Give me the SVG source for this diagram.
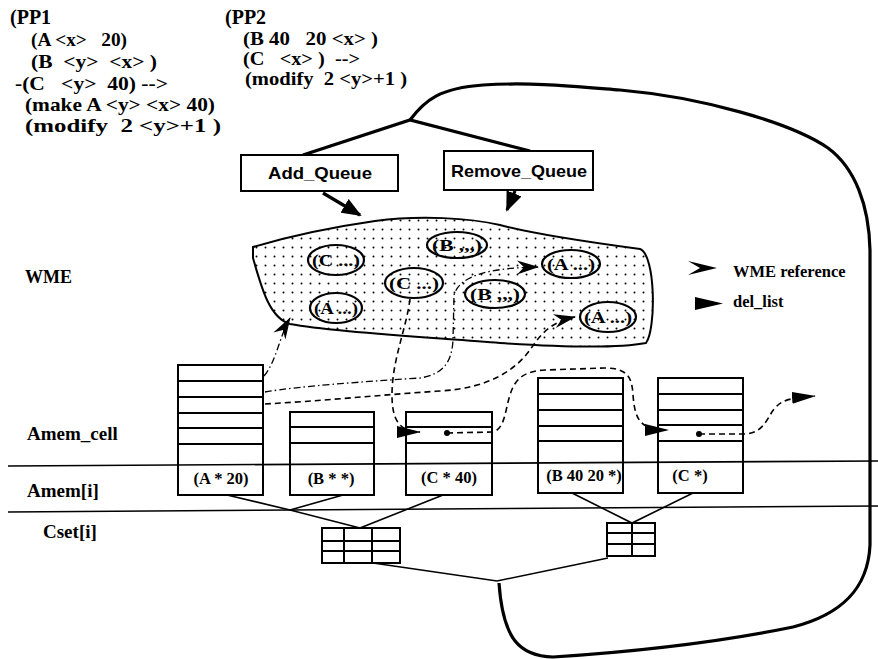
<svg xmlns="http://www.w3.org/2000/svg" width="878" height="659" viewBox="0 0 878 659">
<style>
.t{font-family:"Liberation Serif","Times New Roman",serif;font-weight:bold;fill:#000;white-space:pre}
.s{font-family:"Liberation Sans",Arial,sans-serif;font-weight:bold;fill:#000}
.thin{fill:none;stroke:#000;stroke-width:1.6}
.box{fill:#fff;stroke:#000;stroke-width:2}
.cell{fill:none;stroke:#000;stroke-width:2}
.thick{fill:none;stroke:#000;stroke-width:3.2}
.ell{fill:none;stroke:#000;stroke-width:2.2}
.dash{fill:none;stroke:#000;stroke-width:1.6;stroke-dasharray:6 4}
.dd{fill:none;stroke:#000;stroke-width:1.3;stroke-dasharray:7 3 1.5 3}
.el{font-size:17px}
</style>
<defs>
<pattern id="dots" width="9" height="9" patternUnits="userSpaceOnUse">
<circle cx="4.5" cy="4.5" r="1" fill="#000"/>
</pattern>
<marker id="wref" markerUnits="userSpaceOnUse" markerWidth="22" markerHeight="14" refX="21" refY="7" orient="auto">
<path d="M0,0 L22,7 L0,14 L7,7 Z" fill="#000"/>
</marker>
<marker id="dl" markerUnits="userSpaceOnUse" markerWidth="24" markerHeight="12" refX="23" refY="6" orient="auto">
<path d="M0,0 L24,6 L0,12 Z" fill="#000"/>
</marker>
<marker id="big" markerUnits="userSpaceOnUse" markerWidth="20" markerHeight="16" refX="18" refY="8" orient="auto">
<path d="M0,0 L20,8 L0,16 Z" fill="#000"/>
</marker>
</defs>

<g id="pp1">
<text class="t" x="10" y="24" font-size="20">(PP1</text>
<text class="t" x="31" y="46" font-size="19" textLength="96" lengthAdjust="spacingAndGlyphs">(A &lt;x&gt;   20)</text>
<text class="t" x="31" y="68" font-size="19" textLength="126" lengthAdjust="spacingAndGlyphs">(B  &lt;y&gt;  &lt;x&gt; )</text>
<text class="t" x="15" y="90" font-size="19" textLength="153" lengthAdjust="spacingAndGlyphs">-(C   &lt;y&gt;  40) --&gt;</text>
<text class="t" x="25" y="111" font-size="19" textLength="190" lengthAdjust="spacingAndGlyphs">(make A &lt;y&gt; &lt;x&gt; 40)</text>
<text class="t" x="25" y="132" font-size="19" textLength="196" lengthAdjust="spacingAndGlyphs">(modify  2 &lt;y&gt;+1 )</text>
</g>

<g id="pp2">
<text class="t" x="225" y="24" font-size="20">(PP2</text>
<text class="t" x="243" y="45" font-size="19" textLength="135" lengthAdjust="spacingAndGlyphs">(B 40   20 &lt;x&gt; )</text>
<text class="t" x="243" y="65" font-size="19" textLength="117" lengthAdjust="spacingAndGlyphs">(C   &lt;x&gt; )  --&gt;</text>
<text class="t" x="245" y="85" font-size="19" textLength="162" lengthAdjust="spacingAndGlyphs">(modify  2 &lt;y&gt;+1 )</text>
</g>

<g id="labels">
<text class="t" x="25" y="283" font-size="18">WME</text>
<text class="t" x="27" y="440" font-size="19">Amem_cell</text>
<text class="t" x="27" y="497" font-size="19">Amem[i]</text>
<text class="t" x="43" y="538" font-size="19">Cset[i]</text>
</g>

<g id="legend">
<polygon points="688,261 717,268 688,275 700,268" fill="#000"/>
<polygon points="695,297 723,303.5 695,310" fill="#000"/>
<text class="t" x="733" y="277" font-size="16.5">WME reference</text>
<text class="t" x="733" y="307" font-size="16.5">del_list</text>
</g>

<g id="connectors">
<path class="thick" d="M410,120 C425,100 440,88 483,85 C530,82 570,86 620,90 C700,97 790,122 828,148 C855,168 869,205 870,250 L870,545 C868,590 840,615 793,627 C720,642 630,652 553,657 C520,656 503,640 499,583"/>
<path class="thick" d="M303,155 L410,120 L530,151"/>
<path class="thick" d="M323,193 L360,215" marker-end="url(#big)" stroke-width="4"/>
<path class="thick" d="M515,191 L507,210" marker-end="url(#big)" stroke-width="4"/>
<path class="thin" d="M227,495 L290,510 L360,528 M343,495 L290,510 M443,495 L360,528"/>
<path class="thin" d="M572,493 L632,523 L693,493"/>
<path class="thin" d="M373,563 L497,581 L608,558"/>
<path class="thin" d="M8,466 L878,461" stroke-width="2"/>
<path class="thin" d="M8,512 L878,506" stroke-width="2"/>
<path class="dd" d="M264,376 C276,362 280,335 290,318" marker-end="url(#wref)"/>
<path class="dd" d="M265,392 C300,386 360,382 420,378 C445,374 452,360 453,340 L454,295 C460,275 490,268 538,267" marker-end="url(#wref)"/>
<path class="dash" d="M265,404 C320,401 380,395 440,391 C490,388 515,370 530,350 C540,335 550,322 575,317" marker-end="url(#wref)"/>
<path class="dash" d="M410,299 C406,330 392,360 392,395 C392,418 398,432 420,432" marker-end="url(#dl)"/>
<path class="dash" d="M447,433 L492,432 C505,430 505,410 510,395 C515,378 525,371 545,370 L605,368 C628,368 632,378 633,395 C635,420 640,430 668,430" marker-end="url(#dl)"/>
<path class="dash" d="M699,434 L745,434 C765,433 768,415 775,408 C782,400 790,398 815,396" marker-end="url(#dl)"/>
<circle cx="447" cy="433" r="3" fill="#000"/>
<circle cx="699" cy="434" r="3" fill="#000"/>
</g>

<g id="add_queue">
<rect class="box" x="241" y="155" width="157" height="36"/>
<text class="s" x="320" y="179" font-size="17" text-anchor="middle" textLength="104" lengthAdjust="spacingAndGlyphs">Add_Queue</text>
</g>
<g id="remove_queue">
<rect class="box" x="444" y="151" width="149" height="39"/>
<text class="s" x="519" y="177" font-size="17" text-anchor="middle" textLength="136" lengthAdjust="spacingAndGlyphs">Remove_Queue</text>
</g>

<g id="wme_blob">
<path d="M253,247 C290,236 340,226 375,221 C420,215 470,218 500,225 C530,233 580,241 640,249 C656,255 656,330 646,343 C620,348 560,347 500,343 C440,338 340,333 290,324 C270,318 262,290 253,258 Z" fill="url(#dots)" stroke="#000" stroke-width="2"/>
</g>

<g id="wme_c1"><ellipse class="ell" cx="336" cy="260" rx="28" ry="15"/><text class="t el" x="336" y="266" text-anchor="middle" textLength="48" lengthAdjust="spacingAndGlyphs">(C ...)</text></g>
<g id="wme_b1"><ellipse class="ell" cx="457" cy="245" rx="30" ry="13"/><text class="t el" x="457" y="251" text-anchor="middle" textLength="50" lengthAdjust="spacingAndGlyphs">(B ,,,)</text></g>
<g id="wme_c2"><ellipse class="ell" cx="414" cy="283" rx="29" ry="15"/><text class="t el" x="414" y="289" text-anchor="middle" textLength="50" lengthAdjust="spacingAndGlyphs">(C ...)</text></g>
<g id="wme_a1"><ellipse class="ell" cx="571" cy="264" rx="29" ry="14"/><text class="t el" x="571" y="270" text-anchor="middle" textLength="48" lengthAdjust="spacingAndGlyphs">(A ...)</text></g>
<g id="wme_b2"><ellipse class="ell" cx="495" cy="294" rx="30" ry="14"/><text class="t el" x="495" y="300" text-anchor="middle" textLength="50" lengthAdjust="spacingAndGlyphs">(B ,,,)</text></g>
<g id="wme_a2"><ellipse class="ell" cx="336" cy="308" rx="26" ry="15"/><text class="t el" x="336" y="314" text-anchor="middle" textLength="44" lengthAdjust="spacingAndGlyphs">(A ...)</text></g>
<g id="wme_a3"><ellipse class="ell" cx="608" cy="317" rx="28" ry="15"/><text class="t el" x="608" y="323" text-anchor="middle" textLength="48" lengthAdjust="spacingAndGlyphs">(A ...)</text></g>

<g id="amem1">
<rect class="cell" x="178" y="365" width="85" height="130"/>
<path class="cell" d="M178,381 H263 M178,397 H263 M178,413 H263 M178,428 H263 M178,444 H263"/>
<text class="t" x="221" y="484" font-size="16.5" text-anchor="middle">(A * 20)</text>
</g>
<g id="amem2">
<rect class="cell" x="290" y="412" width="84" height="83"/>
<path class="cell" d="M290,427 H374 M290,443 H374"/>
<text class="t" x="331" y="484" font-size="16.5" text-anchor="middle">(B * *)</text>
</g>
<g id="amem3">
<rect class="cell" x="406" y="412" width="86" height="83"/>
<path class="cell" d="M406,427 H492 M406,443 H492"/>
<text class="t" x="449" y="483" font-size="16.5" text-anchor="middle">(C * 40)</text>
</g>
<g id="amem4">
<rect class="cell" x="538" y="378" width="85" height="115"/>
<path class="cell" d="M538,394 H623 M538,410 H623 M538,426 H623 M538,441 H623"/>
<text class="t" x="584" y="481" font-size="16.5" text-anchor="middle">(B 40 20 *)</text>
</g>
<g id="amem5">
<rect class="cell" x="658" y="378" width="85" height="115"/>
<path class="cell" d="M658,394 H743 M658,410 H743 M658,425 H743 M658,441 H743"/>
<text class="t" x="690" y="481" font-size="16.5" text-anchor="middle">(C *)</text>
</g>

<g id="cset1">
<rect class="cell" x="322" y="528" width="78" height="35"/>
<path class="cell" d="M344,528 V563 M372,528 V563 M322,541 H400 M322,551 H400"/>
</g>
<g id="cset2">
<rect class="cell" x="607" y="523" width="48" height="33"/>
<path class="cell" d="M632,523 V556 M607,533 H655 M607,544 H655"/>
</g>
</svg>
